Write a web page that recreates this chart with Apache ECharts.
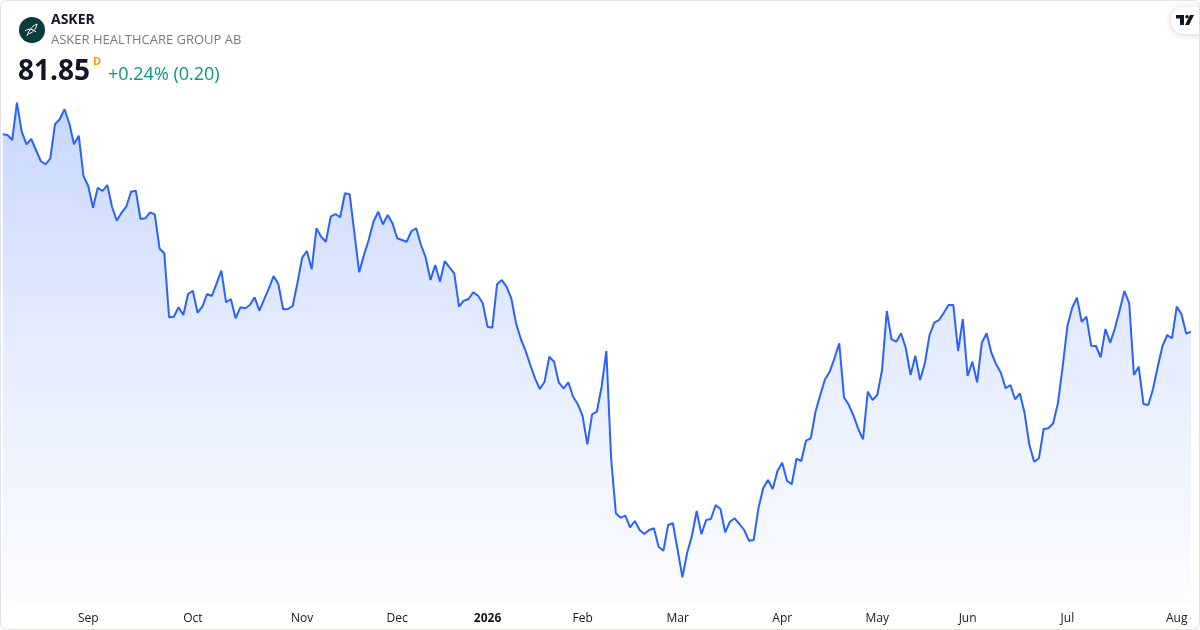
<!DOCTYPE html>
<html>
<head>
<meta charset="utf-8">
<script src="https://cdn.jsdelivr.net/npm/echarts@6/dist/echarts.min.js"></script>
<style>
html,body{margin:0;padding:0;background:#fff;}
#chart{width:1200px;height:630px;}
</style>
</head>
<body>
<div id="chart"></div>
<script>
// Daily closes (SEK), in order
const priceSeg1 = [101.59,101.52,101.02,104.75,101.85,100.59,101.12,100.02,98.92,98.59,99.15,102.59,103.09,104.09,102.69,100.59,101.45,97.42,96.42,94.25,96.25,95.92,96.52,94.35,92.95,93.75,94.35,95.85,95.95,93.12,93.19,93.79];
const priceSeg2 = [93.59,90.17,89.69,83.29,83.35,84.29,83.52,85.62,85.95,83.75,84.35,85.62,85.42,86.69,87.95,84.79,85.12,83.19,84.29,84.19,84.52,85.29,83.95,85.09,86.19,87.42,86.59,84.09,84.12,84.42,86.69,89.25,89.92];
const priceSeg3 = [88.09,92.19,91.35,90.85,93.35,93.62,93.29,95.69,95.59,91.69,87.79,89.52,91.02,92.85,93.85,92.59,93.52,92.69,91.19,91.02,90.85,91.92,92.19,90.52,89.25,87.02,88.52,86.85,88.92,88.29,87.69];
const priceSeg4 = [84.35,84.95,85.12,85.79,85.45,84.69,82.35,82.25,86.59,87.02,86.35,85.19,82.69,81.12,79.95,78.52,77.19,76.12,76.85,79.35,78.85,76.75,76.19,76.79,75.35,74.59,73.42,70.59,73.59,73.85,76.35,79.92];
const priceSeg5 = [69.19,63.69,63.25,63.45,62.29,62.92,62.02,61.62,62.02,62.19,60.35,59.95,62.52,62.69,60.02,57.29,59.75,61.42,63.92,61.59,63.02,63.12,64.52,64.12,61.79,62.85,63.19,62.62,62.02,60.95,61.02,64.19,66.19,67.02,66.12,67.92,68.75];
const priceSeg6 = [66.95,66.59,69.15,68.92,70.95,71.19,73.85,75.52,77.09,77.85,79.19,80.69,75.29,74.52,73.45,72.12,71.09,75.85,75.02,75.52,78.02,83.92,81.09,80.85,81.69,80.19,77.52,79.45,77.02,78.69,81.52,82.75,83.02,83.75,84.52,84.52,79.92,83.12,77.42,78.85,76.79,80.75,81.69,79.75,78.59,77.75,76.19,76.52,75.09,75.69,73.69,70.52,68.85,69.19,72.12,72.19,72.69,74.69,78.35,82.42,84.25,85.25,82.85,83.35,80.45,80.42,79.29,82.12,80.75,82.19,84.02,85.92,84.69,77.52,78.35,74.62,74.52,76.09,78.35,80.42,81.52,81.19,84.36,83.59,81.65,81.85];

// Trading calendar (Stockholm)
const firstDay = '2025-08-06';
const holidays = ['2025-12-24','2025-12-25','2025-12-26','2025-12-31','2026-01-01','2026-01-06','2026-04-03','2026-04-06','2026-05-01','2026-05-14','2026-06-19'];
const monthLabels = ['2026','Feb','Mar','Apr','May','Jun','Jul','Aug','Sep','Oct','Nov','Dec'];

// Header texts
const ticker = 'ASKER';
const companyName = 'ASKER HEALTHCARE GROUP AB';
const lastPrice = '81.85';
const periodTag = 'D';
const changeText = '+0.24% (0.20)';

const prices = [].concat(priceSeg1, priceSeg2, priceSeg3, priceSeg4, priceSeg5, priceSeg6);

function fmt(d){
  const m = d.getUTCMonth()+1, dd = d.getUTCDate();
  return d.getUTCFullYear()+'-'+(m<10?'0':'')+m+'-'+(dd<10?'0':'')+dd;
}
const dates = [];
{
  const d = new Date(firstDay+'T00:00:00Z');
  while (dates.length < prices.length) {
    const wd = d.getUTCDay();
    const s = fmt(d);
    if (wd !== 0 && wd !== 6 && holidays.indexOf(s) < 0) dates.push(s);
    d.setUTCDate(d.getUTCDate()+1);
  }
}
const monthOf = s => +s.slice(5,7);

const chart = echarts.init(document.getElementById('chart'), null, {renderer:'canvas'});
const FONT = '"Open Sans", "Noto Sans", sans-serif';

chart.setOption({
  animation:false,
  backgroundColor:'#ffffff',
  grid:{left:2.7, right:9, top:90, bottom:27, containLabel:false},
  xAxis:{
    type:'category',
    data:dates,
    boundaryGap:false,
    axisLine:{show:false},
    axisTick:{show:false},
    splitLine:{show:false},
    axisLabel:{
      margin:10,
      color:'#131722',
      fontSize:12,
      fontFamily:FONT,
      hideOverlap:false,
      interval:function(idx, val){
        if (idx === 0) return false;
        return monthOf(val) !== monthOf(dates[idx-1]);
      },
      formatter:function(val){
        const m = monthOf(val);
        return m === 1 ? '{y|'+monthLabels[0]+'}' : monthLabels[m-1];
      },
      rich:{y:{fontWeight:'bold', fontSize:12, color:'#131722', fontFamily:FONT}}
    }
  },
  yAxis:{
    type:'value',
    min:54.72,
    max:106.02,
    show:false,
    splitLine:{show:false}
  },
  series:[{
    type:'line',
    data:prices,
    symbol:'none',
    smooth:false,
    lineStyle:{color:'#2962ff', width:2},
    areaStyle:{
      color:new echarts.graphic.LinearGradient(0,0,0,1,[
        {offset:0, color:'rgba(41,98,255,0.36)'},
        {offset:0.5, color:'rgba(41,98,255,0.17)'},
        {offset:1, color:'rgba(41,98,255,0.02)'}
      ])
    }
  }],
  graphic:[
    {type:'rect', shape:{x:0.5,y:0.5,width:1199,height:629,r:6}, style:{fill:'none', stroke:'#e0e3eb', lineWidth:1}, z:100},
    // company logo
    {type:'circle', shape:{cx:32, cy:30, r:13}, style:{fill:'#0d3d3b'}, z:10},
    {type:'bezierCurve', shape:{x1:27, y1:36, x2:37, y2:24, cpx1:29, cpy1:29, cpx2:34, cpy2:25}, style:{fill:'none', stroke:'#ffffff', lineWidth:1}, z:11},
    {type:'bezierCurve', shape:{x1:37, y1:24, x2:28, y2:34, cpx1:36, cpy1:30, cpx2:32, cpy2:33}, style:{fill:'none', stroke:'#ffffff', lineWidth:1}, z:11},
    {type:'bezierCurve', shape:{x1:25, y1:31, x2:36, y2:32, cpx1:28, cpy1:28, cpx2:33, cpy2:29}, style:{fill:'none', stroke:'#ffffff', lineWidth:1}, z:11},
    {type:'text', left:51, top:13, style:{text:ticker, font:'bold 14px '+FONT, fill:'#131722'}, z:10},
    {type:'text', left:51, top:34, style:{text:companyName, font:'13px '+FONT, fill:'#787b86'}, z:10},
    {type:'text', left:18, top:58, style:{text:lastPrice, font:'bold 28px '+FONT, fill:'#131722'}, z:10},
    {type:'text', left:93, top:56, style:{text:periodTag, font:'bold 11px '+FONT, fill:'#ff9800'}, z:10},
    {type:'text', left:108, top:66, style:{text:changeText, font:'18px '+FONT, fill:'#089981'}, z:10},
    // TradingView badge
    {type:'rect', shape:{x:1171, y:7, width:40, height:27, r:13}, style:{fill:'#ffffff', shadowBlur:6, shadowColor:'rgba(0,0,0,0.18)', shadowOffsetY:1}, z:20},
    {type:'polygon', shape:{points:[[1176,15],[1184,15],[1184,25],[1180,25],[1180,18.5],[1176,18.5]]}, style:{fill:'#131722'}, z:21},
    {type:'circle', shape:{cx:1187, cy:16.8, r:1.8}, style:{fill:'#131722'}, z:21},
    {type:'polygon', shape:{points:[[1190,15],[1194,15],[1189,25],[1185,25]]}, style:{fill:'#131722'}, z:21}
  ]
});
</script>
</body>
</html>
